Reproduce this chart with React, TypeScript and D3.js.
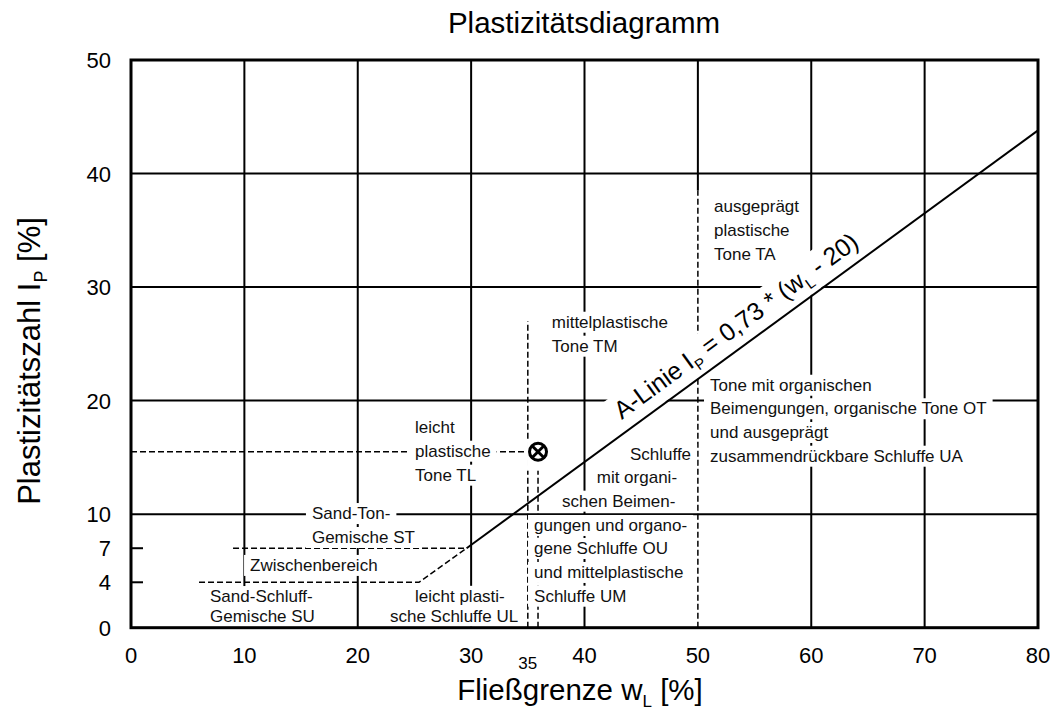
import React, { useEffect, useRef } from "react";
import * as d3 from "d3";

// axes
const xTicks = [0, 10, 20, 30, 40, 50, 60, 70, 80];
const xTicksSmall = [35];
const yTicks = [0, 4, 7, 10, 20, 30, 40, 50];
const gridX = [10, 20, 30, 40, 60, 70];
const gridY = [10, 20, 30, 40];
const shortTicksY = [4, 7];

// solid part of the 50 grid line (above the dashed boundary)
const grid50: [number, number][] = [[50, 38.5], [50, 50]];

// A-Linie Ip = 0,73 * (wL - 20)
const aLine: [number, number][] = [[29.6, 7.0], [80, 43.8]];

// dashed zone boundaries
const boundaries: [number, number][][] = [
  [[6, 4], [25.4, 4], [29.6, 7]],
  [[9, 7], [29.6, 7]],
  [[35, 0], [35, 27]],
  [[50, 0], [50, 38.5]],
];

// measured sample
const sample = { wL: 35.9, Ip: 15.5 };

// zone labels: text, wL, Ip (baseline start)
const zoneLabels: [string, number, number][] = [
  ["Sand-Ton-", 15.96, 9.57],
  ["Gemische ST", 15.96, 7.46],
  ["Zwischenbereich", 10.5, 5.0],
  ["Sand-Schluff-", 6.97, 2.26],
  ["Gemische SU", 6.97, 0.5],
  ["leicht plasti-", 25.05, 2.28],
  ["sche Schluffe UL", 22.84, 0.53],
  ["leicht", 25.05, 17.17],
  ["plastische", 25.05, 15.06],
  ["Tone TL", 25.05, 12.95],
  ["mittelplastische", 37.11, 26.42],
  ["Tone TM", 37.11, 24.31],
  ["Schluffe", 44.01, 14.77],
  ["mit organi-", 41.08, 12.74],
  ["schen Beimen-", 38.02, 10.66],
  ["gungen und organo-", 35.55, 8.52],
  ["gene Schluffe OU", 35.55, 6.49],
  ["und mittelplastische", 35.55, 4.38],
  ["Schluffe UM", 35.55, 2.29],
  ["ausgeprägt", 51.42, 36.64],
  ["plastische", 51.42, 34.5],
  ["Tone TA", 51.42, 32.38],
  ["Tone mit organischen", 51.07, 20.87],
  ["Beimengungen, organische Tone OT", 51.07, 18.8],
  ["und ausgeprägt", 51.07, 16.71],
  ["zusammendrückbare Schluffe UA", 51.07, 14.62],
];

const aLineLabelAt = 43.9;

type Part = { t: string; sub?: boolean };

const FONT = "'Liberation Sans', Arial, Helvetica, sans-serif";
const W = 1056;
const H = 719;

function rich(sel: any, parts: Part[], subSize: number, shift: number) {
  parts.forEach((p, i) => {
    const ts = sel.append("tspan").text(p.t);
    if (p.sub) ts.attr("font-size", subSize).attr("dy", shift);
    else if (i > 0 && parts[i - 1].sub) ts.attr("dy", -shift);
  });
}

function backdrop(g: any, text: any, padX: number, padY: number) {
  const b = text.node().getBBox();
  g.insert("rect", () => text.node())
    .attr("x", b.x - padX)
    .attr("y", b.y - padY)
    .attr("width", b.width + padX * 2)
    .attr("height", b.height + padY * 2)
    .attr("fill", "#fff");
}

export default function App() {
  const svgRef = useRef<SVGSVGElement>(null);

  useEffect(() => {
    const svg = d3.select(svgRef.current);
    svg.selectAll("*").remove();

    const x = d3.scaleLinear().domain([0, 80]).range([131, 1038]);
    const y = d3.scaleLinear().domain([0, 50]).range([627.7, 60]);
    const line = d3
      .line<[number, number]>()
      .x((d) => x(d[0]))
      .y((d) => y(d[1]));

    // grid
    const grid = svg.append("g").attr("stroke", "#000").attr("stroke-width", 2);
    grid
      .selectAll("line.gx")
      .data(gridX)
      .enter()
      .append("line")
      .attr("x1", (d) => x(d))
      .attr("x2", (d) => x(d))
      .attr("y1", y(0))
      .attr("y2", y(50));
    grid
      .selectAll("line.gy")
      .data(gridY)
      .enter()
      .append("line")
      .attr("x1", x(0))
      .attr("x2", x(80))
      .attr("y1", (d) => y(d))
      .attr("y2", (d) => y(d));
    grid.append("path").attr("d", line(grid50)).attr("fill", "none");
    grid
      .selectAll("line.ty")
      .data(shortTicksY)
      .enter()
      .append("line")
      .attr("x1", x(0))
      .attr("x2", x(0) + 12)
      .attr("y1", (d) => y(d))
      .attr("y2", (d) => y(d));

    // dashed boundaries
    svg
      .append("g")
      .selectAll("path")
      .data(boundaries)
      .enter()
      .append("path")
      .attr("d", (d) => line(d))
      .attr("fill", "none")
      .attr("stroke", "#000")
      .attr("stroke-width", 1.5)
      .attr("stroke-dasharray", "6,3");

    // drop lines of the sample
    svg
      .append("g")
      .selectAll("path")
      .data([
        [[0, sample.Ip], [sample.wL, sample.Ip]],
        [[sample.wL, 0], [sample.wL, sample.Ip]],
      ] as [number, number][][])
      .enter()
      .append("path")
      .attr("d", (d) => line(d))
      .attr("fill", "none")
      .attr("stroke", "#000")
      .attr("stroke-width", 1.5)
      .attr("stroke-dasharray", "6,3");

    // zone labels with white backgrounds
    const lab = svg.append("g").attr("font-family", FONT).attr("font-size", 17).attr("fill", "#111");
    zoneLabels.forEach(([t, wl, ip]) => {
      const g = lab.append("g");
      const tx = g.append("text").attr("x", x(wl)).attr("y", y(ip)).text(t);
      backdrop(g, tx, 6, 1);
    });

    // A-Linie label
    const p0 = [x(aLine[0][0]), y(aLine[0][1])];
    const p1 = [x(aLine[1][0]), y(aLine[1][1])];
    const ang = (Math.atan2(p1[1] - p0[1], p1[0] - p0[0]) * 180) / Math.PI;
    const aY = d3.scaleLinear().domain([aLine[0][0], aLine[1][0]]).range([aLine[0][1], aLine[1][1]]);
    const ag = svg
      .append("g")
      .attr("transform", `translate(${x(aLineLabelAt)},${y(aY(aLineLabelAt))}) rotate(${ang})`);
    const at = ag
      .append("text")
      .attr("x", 0)
      .attr("y", -12)
      .attr("font-family", FONT)
      .attr("font-size", 25)
      .attr("fill", "#000");
    rich(
      at,
      [
        { t: "A-Linie I" },
        { t: "P", sub: true },
        { t: " = 0,73 * (w" },
        { t: "L", sub: true },
        { t: " - 20)" },
      ],
      15,
      6
    );
    backdrop(ag, at, 5, 2);

    // A-line
    svg
      .append("path")
      .attr("d", line(aLine))
      .attr("fill", "none")
      .attr("stroke", "#000")
      .attr("stroke-width", 2);

    // sample marker
    const mx = x(sample.wL);
    const my = y(sample.Ip);
    svg
      .append("rect")
      .attr("x", mx - 11)
      .attr("y", my - 11)
      .attr("width", 22)
      .attr("height", 30)
      .attr("fill", "#fff");
    const mk = svg.append("g").attr("stroke", "#000").attr("stroke-width", 3).attr("fill", "none");
    mk.append("ellipse").attr("cx", mx).attr("cy", my).attr("rx", 8.5).attr("ry", 8.5);
    mk.append("line").attr("x1", mx - 6.5).attr("y1", my - 6.5).attr("x2", mx + 6.5).attr("y2", my + 6.5);
    mk.append("line").attr("x1", mx + 6.5).attr("y1", my - 6.5).attr("x2", mx - 6.5).attr("y2", my + 6.5);

    // frame
    svg
      .append("rect")
      .attr("x", x(0))
      .attr("y", y(50))
      .attr("width", x(80) - x(0))
      .attr("height", y(0) - y(50))
      .attr("fill", "none")
      .attr("stroke", "#000")
      .attr("stroke-width", 3);

    // tick labels
    const tl = svg.append("g").attr("font-family", FONT).attr("fill", "#000");
    tl.selectAll("text.xt")
      .data(xTicks)
      .enter()
      .append("text")
      .attr("x", (d) => x(d))
      .attr("y", 663)
      .attr("text-anchor", "middle")
      .attr("font-size", 22)
      .text((d) => d);
    tl.selectAll("text.xs")
      .data(xTicksSmall)
      .enter()
      .append("text")
      .attr("x", (d) => x(d))
      .attr("y", 669)
      .attr("text-anchor", "middle")
      .attr("font-size", 17)
      .text((d) => d);
    tl.selectAll("text.yt")
      .data(yTicks)
      .enter()
      .append("text")
      .attr("x", 111)
      .attr("y", (d) => y(d) + 8)
      .attr("text-anchor", "end")
      .attr("font-size", 22)
      .text((d) => d);

    // titles
    svg
      .append("text")
      .attr("x", 584)
      .attr("y", 33)
      .attr("text-anchor", "middle")
      .attr("font-family", FONT)
      .attr("font-size", 29.5)
      .text("Plastizitätsdiagramm");

    const xl = svg
      .append("text")
      .attr("x", 580)
      .attr("y", 700)
      .attr("text-anchor", "middle")
      .attr("font-family", FONT)
      .attr("font-size", 29.5);
    rich(xl, [{ t: "Fließgrenze w" }, { t: "L", sub: true }, { t: " [%]" }], 17, 7);

    const yl = svg
      .append("text")
      .attr("transform", `translate(40,${361}) rotate(-90)`)
      .attr("text-anchor", "middle")
      .attr("font-family", FONT)
      .attr("font-size", 31);
    rich(yl, [{ t: "Plastizitätszahl I" }, { t: "P", sub: true }, { t: " [%]" }], 18, 7);
  }, []);

  return (
    <svg
      ref={svgRef}
      width={W}
      height={H}
      style={{ position: "absolute", left: 0, top: 0, background: "#fff" }}
    />
  );
}
